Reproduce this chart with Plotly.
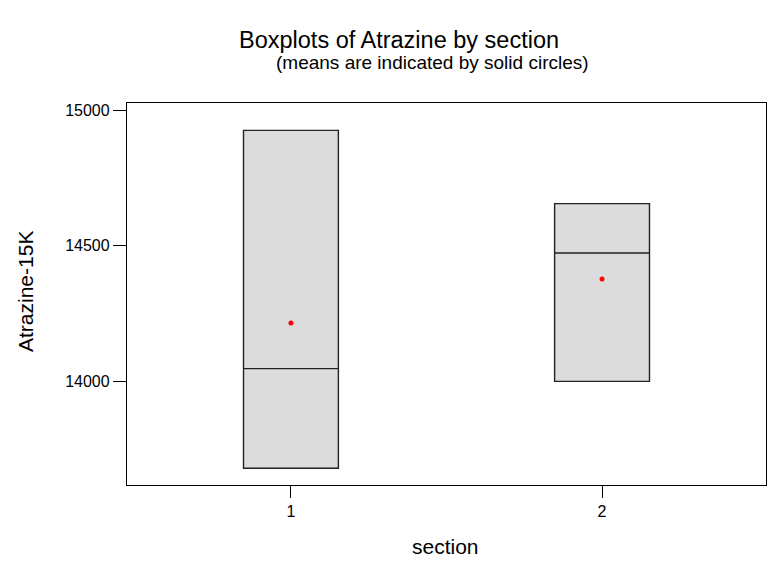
import plotly.graph_objects as go

sections = [1, 2]
tick_labels = ["1", "2"]
q1 = [13680, 14000]
median = [14047, 14473]
q3 = [14925, 14655]
lower = [13680, 14000]
upper = [14925, 14655]
means = [14215, 14377]
y_ticks = [14000, 14500, 15000]
y_tick_labels = ["14000", "14500", "15000"]

W, H = 769, 561
L, R, T, B = 127, 3, 103, 76

fig = go.Figure()
fig.add_trace(go.Box(
    x=sections, q1=q1, median=median, q3=q3,
    lowerfence=lower, upperfence=upper,
    width=0.305, fillcolor="#dcdcdc",
    line=dict(color="#222222", width=1.4),
    whiskerwidth=0, boxpoints=False, showlegend=False,
    hoverinfo="skip",
))
fig.add_trace(go.Scatter(
    x=sections, y=means, mode="markers",
    marker=dict(color="#ff0000", size=5, symbol="circle"),
    showlegend=False,
))

font = "Liberation Sans, Arial, sans-serif"
pw = W - L - R
ph = H - T - B


def px(x):
    return (x - L) / pw


def py(y):
    return (H - B - y) / ph


fig.update_layout(
    width=W, height=H,
    margin=dict(l=L, r=R, t=T, b=B),
    plot_bgcolor="white", paper_bgcolor="white",
    font=dict(family=font, color="#000000"),
    xaxis=dict(
        range=[0.473, 2.527], tickvals=sections, ticktext=tick_labels,
        showline=True, mirror=True, linecolor="#000000", linewidth=1.3,
        ticks="outside", ticklen=12, tickcolor="#000000", tickwidth=1.3,
        showgrid=False, zeroline=False, tickfont=dict(size=16),
    ),
    yaxis=dict(
        range=[13618, 15026], tickvals=y_ticks, ticktext=y_tick_labels,
        showline=True, mirror=True, linecolor="#000000", linewidth=1.3,
        ticks="outside", ticklen=13, tickcolor="#000000", tickwidth=1.3,
        showgrid=False, zeroline=False, tickfont=dict(size=16),
    ),
    annotations=[
        dict(text="Boxplots of Atrazine by section", x=px(399), y=py(40),
             xref="paper", yref="paper", showarrow=False,
             xanchor="center", yanchor="middle", font=dict(size=23.5)),
        dict(text="(means are indicated by solid circles)", x=px(432), y=py(63),
             xref="paper", yref="paper", showarrow=False,
             xanchor="center", yanchor="middle", font=dict(size=19)),
        dict(text="section", x=px(445), y=py(546),
             xref="paper", yref="paper", showarrow=False,
             xanchor="center", yanchor="middle", font=dict(size=21)),
        dict(text="Atrazine-15K", x=px(25), y=py(292), textangle=-90,
             xref="paper", yref="paper", showarrow=False,
             xanchor="center", yanchor="middle", font=dict(size=21)),
    ],
)

fig.write_html("out.html")
